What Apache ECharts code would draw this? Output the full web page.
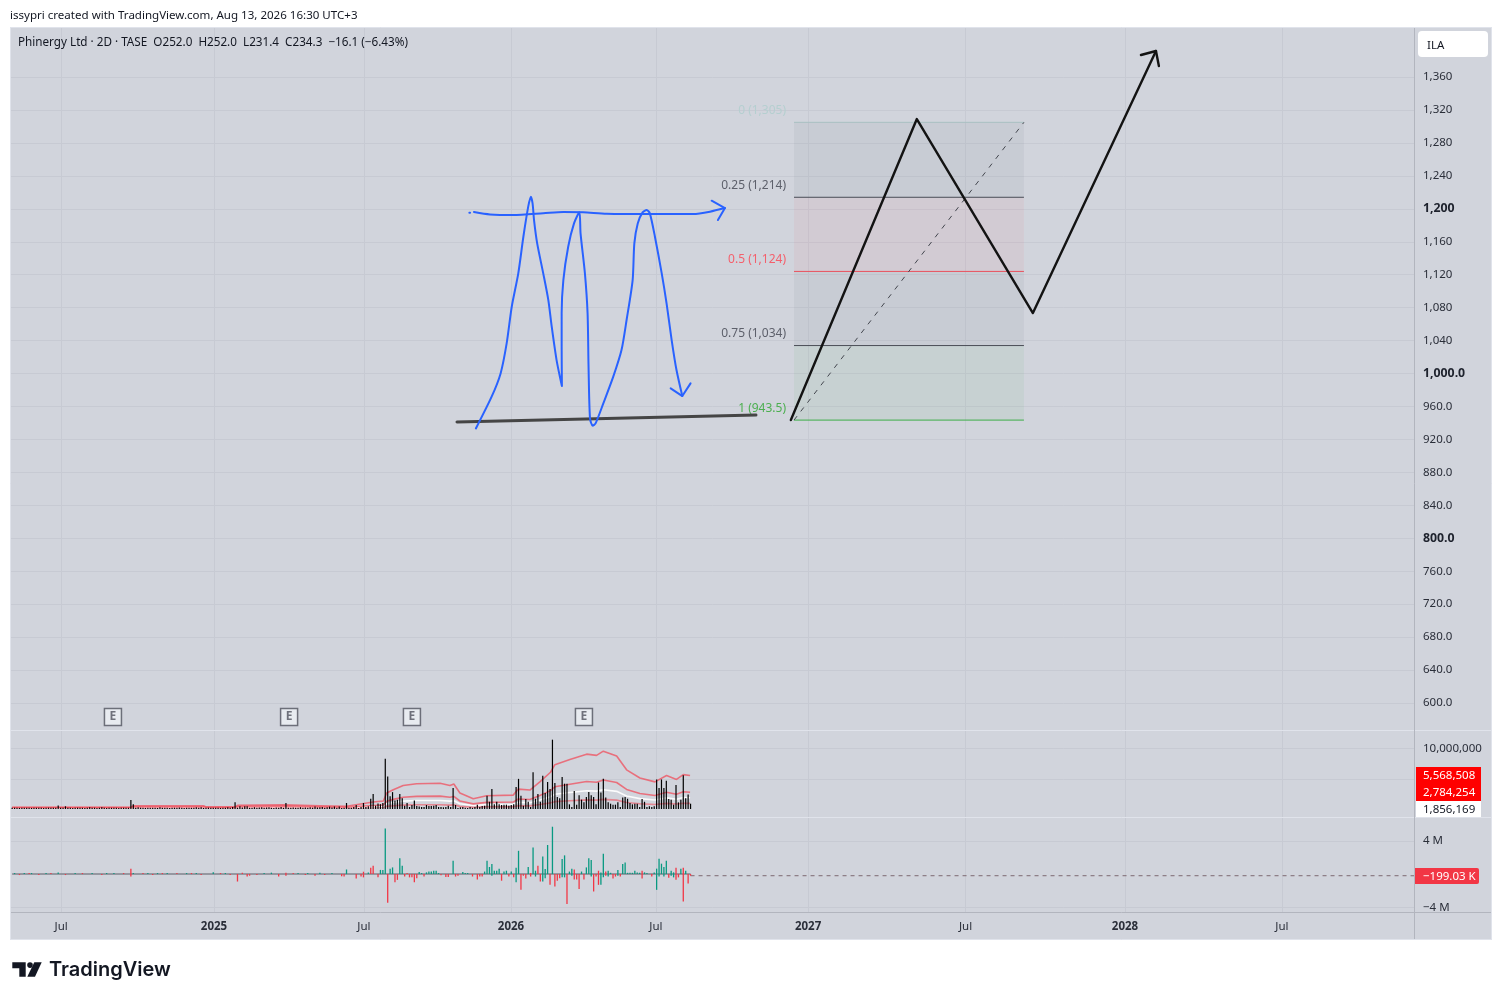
<!DOCTYPE html>
<html><head><meta charset="utf-8">
<style>html,body{margin:0;padding:0;background:#fff}#c{width:1502px;height:1000px}</style>
<script src="https://cdn.jsdelivr.net/npm/echarts@6/dist/echarts.min.js"></script>
</head><body><div id="c"></div>
<script>
const creditText = 'issypri created with TradingView.com, Aug 13, 2026 16:30 UTC+3';
const legendText = 'Phinergy Ltd · 2D · TASE  O252.0  H252.0  L231.4  C234.3  −16.1 (−6.43%)';
const brandText = 'TradingView';
const currencyText = 'ILA';
const priceTicks = [1360,1320,1280,1240,1200,1160,1120,1080,1040,1000,960,920,880,840,800,760,720,680,640,600];
const strongPrices = [1200,1000,800];
const timeTickPositions = [18.2,81.3,143.2,203.9,263.7,326.5,391.5,457.3,522.1];
const timeTickLabels = ['Jul','2025','Jul','2026','Jul','2027','Jul','2028','Jul'];
const fibLevels = [0,0.25,0.5,0.75,1];
const fibPrices = [1305,1214,1124,1034,943.5];
const fibLabels = ['1,305','1,214','1,124','1,034','943.5'];
const fibStart = 320.7, fibEnd = 415.6;
const earningsBars = [39.6,112.3,163.0,234.0];
const earningsPrice = 583;
const bluePath = [[189.4,933.4],[195.9,971.9],[199.6,1000.2],[202.1,1036.6],[204.2,1081.1],[206.9,1121.6],[209.0,1166.1],[211.0,1202.6],[212.1,1214.7],[212.8,1206.6],[213.4,1186.4],[214.7,1158],[217.2,1121.6],[219.3,1089.2],[220.7,1056.9],[222.7,1016.4],[224.9,984.8],[224.8,1032.6],[224.8,1073.1],[225.5,1113.5],[227.5,1154],[229.9,1182.3],[232.1,1195.7],[232.6,1170.2],[234.4,1121.6],[235.5,1073.1],[235.9,1008.3],[236.5,945.6],[237.6,936.7],[238.8,939.5],[242,963.8],[246.1,996.2],[249.5,1028.5],[251.6,1065],[254.1,1113.5],[254.8,1158],[256.2,1182.3],[258.2,1195.7],[259.9,1198.5],[261.2,1194.5],[263.3,1166.1],[266.1,1121.6],[268.1,1085.2],[270.2,1040.7],[272.2,1004.3],[274.6,972.7]];
const blueHead = [[269.8,982],[274.6,972.7],[278,988.1]];
const blueTop = [[188.6,1196.1],[195.2,1193.2],[204.8,1192.4],[217.2,1194.5],[225.5,1196.1],[233.7,1195.7],[243.4,1194.1],[261.2,1193.7],[279.1,1193.7],[286,1196.5],[292.2,1200.9]];
const blueTopHead = [[286.7,1209.8],[292.2,1200.9],[289.3,1186.4]];
const blueDot = [[186.7,1195.3],[187,1195.3]];
const supportLine = [[181.6,941.1],[305,949.6]];
const zigzag = [[319.4,943.6],[371.4,1309],[419.3,1073.5],[470.1,1391.6]];
const zigzagHead = [[463.9,1386.7],[470.1,1391.6],[471.3,1373.3]];

const firstBar = -2;
const volumeM = [
.2,.22,.2,.18,.2,.22,.2,.2,.18,.22,.2,.22,.2,.18,.2,.22,.2,.22,.2,.6,.22,.2,.45,.2,.22,.18,.2,.22,.2,.2,.18,.22,.28,.2,.22,.18,.2,.3,.2,.18,.22,.2,.2,.22,.18,.2,.22,.2,.2,1.5,.8,.2,.3,.22,.2,.18,.22,.2,.2,.22,.18,.3,.2,.22,.2,.18,.2,.22,.2,.25,.2,.18,.22,.2,.2,.22,.28,.2,.3,.18,.2,.22,.2,.2,.22,.2,.18,.2,.22,.3,.2,.32,1.1,.22,.45,.25,.45,.45,.2,.22,.3,.2,.25,.3,.22,.25,.3,.2,.18,.25,.22,.32,.2,1,.22,.2,.25,.22,.2,.3,.22,.25,.2,.3,.22,.4,.25,.3,.35,.2,.3,.4,.25,.4,.22,.4,
.15,.2,1,.2,.2,.35,.65,.15,.35,1,.35,.45,1.7,2.5,.55,.9,.8,1,8.35,
5.4,2.1,2.8,1.4,1.55,2.5,1.8,.55,1,.33,.66,1.4,.5,.4,.33,.33,.66,.5,.5,.55,.66,.33,.33,.28,.33,.55,.33,3.5,
.66,.15,.28,.33,.2,.15,.33,.2,.33,.72,.33,.5,.55,2.2,1.2,3.3,.77,1.2,.8,.66,.72,.72,.55,.66,.77,3.65,5,2.2,.55,1.66,1.2,.33,6.1,1.7,2.5,1.2,5.5,2.65,4.5,3.3,11.5,4.3,2,1.8,5.3,4.2,4.2,.77,.33,3,.72,2.3,1.55,1.1,2,2.8,2.3,2,.77,4.4,2.75,5,1.9,1.1,.88,.72,.72,1.1,.33,1.9,2,1.7,1,.77,.88,.88,.33,1.66,1.2,.33,.44,.33,.44,4.9,3.5,4.9,3.5,4.7,1.66,1.55,.72,4,1.1,1.55,5.6,1.8,2.4,.88];
const volUpper = [[-2,.28],[47,.3],[48,.55],[77,.55],[78,.35],[90,.36],[91,.6],[110,.68],[125,.55],[136,.45],[147,1.16],[151.2,1.33],[152.6,2.65],[155.3,3.2],[159.4,3.9],[164.9,4.2],[174.6,4.26],[178.7,3.9],[180.3,4.15],[182.8,2.65],[188.3,1.7],[193.8,2.2],[204.8,2.3],[206.9,3.3],[211.7,3.15],[215.8,4.5],[220.2,6.1],[222,7.35],[228.2,8.2],[235.1,9.1],[239.2,8.9],[242,9.6],[247.5,8.8],[251.6,6.5],[257.1,5.15],[263.3,4.5],[268.1,5.55],[272.2,4.9],[275,5.7],[277.8,5.568508]];
const volMid = [[-2,.25],[47,.26],[48,.36],[77,.36],[78,.26],[90,.27],[91,.4],[110,.44],[125,.36],[136,.3],[147,.58],[151.2,.67],[152.6,1.3],[155.3,1.6],[159.4,1.95],[164.9,2.1],[174.6,2.13],[178.7,1.95],[180.3,2.08],[182.8,1.33],[188.3,.85],[193.8,1.1],[204.8,1.15],[206.9,1.65],[211.7,1.58],[215.8,2.25],[220.2,3.05],[222,3.68],[228.2,4.1],[235.1,4.55],[239.2,4.45],[242,4.8],[247.5,4.4],[251.6,3.25],[257.1,2.58],[263.3,2.25],[268.1,2.78],[272.2,2.45],[275,2.85],[277.8,2.784254]];
const volBase = [[-2,.22],[47,.22],[48,.28],[77,.28],[78,.22],[90,.22],[91,.3],[110,.32],[125,.28],[136,.25],[147,.39],[151.2,.44],[152.6,.88],[155.3,1.07],[159.4,1.3],[164.9,1.4],[174.6,1.42],[178.7,1.3],[180.3,1.38],[182.8,.88],[188.3,.57],[193.8,.73],[204.8,.77],[206.9,1.1],[211.7,1.05],[215.8,1.5],[220.2,2.03],[222,2.45],[228.2,2.73],[235.1,3.03],[239.2,2.97],[242,3.2],[247.5,2.93],[251.6,2.17],[257.1,1.72],[263.3,1.5],[268.1,1.85],[272.2,1.63],[275,1.9],[277.8,1.856169]];
const volLow = [[-2,.2],[47,.2],[48,.24],[77,.24],[78,.2],[90,.2],[91,.25],[110,.26],[125,.24],[136,.22],[147,.25],[151.2,.28],[152.6,.44],[155.3,.53],[159.4,.65],[164.9,.7],[174.6,.71],[178.7,.65],[180.3,.69],[182.8,.44],[188.3,.28],[193.8,.37],[204.8,.38],[206.9,.55],[211.7,.52],[215.8,.75],[220.2,1.02],[222,1.22],[228.2,1.37],[235.1,1.52],[239.2,1.48],[242,1.6],[247.5,1.47],[251.6,1.08],[257.1,.86],[263.3,.75],[268.1,.93],[272.2,.82],[275,.95],[277.8,.93]];
const deltaGreenM = [[-1,.12],[3,.12],[6,.12],[12,.12],[17,.2],[24,.12],[31,.12],[37,.12],[40,.12],[48,.12],[54,.12],[58,.12],[62,.12],[70,.12],[74,.12],[81,.22],[86,.12],[102,.12],[105,.17],[116,.12],[120,.12],[125,.17],[130,.12],[136,.55],[145,.2],[150,.5],[151,.5],[152,5.5],[154,.65],[155,.8],[158,1.9],[159,1],[166,.25],[167,.12],[169,.2],[170,.3],[171,.3],[172,.4],[173,.4],[174,.12],[180,1.6],[184,.25],[185,.12],[186,.12],[193,.3],[194,1.6],[195,.85],[196,1.2],[196,-.2],[197,.4],[198,.4],[199,.65],[201,.3],[202,.4],[204,.3],[206,.75],[206,-1],[207,2.8],[211,.85],[213,3.2],[214,.4],[214,-.3],[217,2.1],[217,-.9],[218,.6],[218,-.5],[219,3.5],[221,5.7],[225,1.8],[225,-.4],[226,2.25],[226,-.4],[228,.3],[229,.65],[229,-.2],[233,.3],[235,.8],[236,1.9],[237,1.7],[237,-.3],[241,.2],[241,-1.3],[242,2.45],[242,-.4],[244,.4],[244,-.3],[245,.15],[248,.5],[248,-.2],[250,1.2],[251,1.4],[252,.15],[253,.15],[254,.15],[255,.4],[256,.2],[257,.15],[259,.2],[260,.12],[263,.2],[264,.65],[264,-1.9],[265,1.85],[265,-.3],[266,1.25],[267,.85],[267,-.3],[268,1.6],[270,.4],[270,-.2],[271,.2],[271,-.4],[274,.65],[276,.4]];
const deltaRedM = [[1,-.12],[5,.12],[9,-.12],[14,.12],[20,-.12],[27,.12],[35,-.12],[44,.12],[47,.65],[47,-.3],[52,.12],[56,-.12],[60,.12],[66,.12],[72,.12],[76,-.12],[84,.12],[88,-.12],[91,-.9],[93,.15],[95,-.3],[96,-.2],[99,-.12],[108,-.3],[111,.15],[111,-.2],[114,.12],[119,-.12],[123,-.2],[127,-.12],[134,-.25],[135,-.3],[140,-.55],[142,-.3],[143,.28],[143,-.4],[146,.75],[147,1],[149,-.4],[153,-3.45],[156,-1],[157,-.7],[160,-.3],[161,.12],[162,-.4],[163,-.4],[164,-1],[165,-.5],[168,-.3],[175,-.15],[177,-.35],[178,-.35],[181,-.3],[182,-.2],[188,-.3],[190,-.65],[191,-.3],[192,-.3],[200,-.8],[203,-.3],[205,-.4],[208,-1.9],[209,-.2],[210,-.55],[212,.12],[212,-.3],[215,1],[216,-.9],[220,-1.3],[222,-1.5],[223,-.8],[224,-.5],[227,-3.6],[230,.55],[230,-.65],[231,-.65],[232,-1.8],[234,-.65],[238,-2.1],[239,-.3],[240,.4],[240,-1.3],[243,.3],[243,-.2],[246,-.55],[247,-.3],[249,-.3],[258,.4],[258,-.55],[262,-.3],[269,-.45],[272,.75],[272,-.7],[273,-.4],[275,.75],[275,-3.3],[277,-1.15],[278,-.199]];
const lastDelta = -199030;
const deltaTagText = '−199.03 K';
const volumeTags = ['5,568,508','2,784,254','1,856,169'];

const FONT = '"Noto Sans", sans-serif';
const M = 1e6;
const GRID = '#c7cad3';
const TXT = '#2a2e39';
const fmtPrice = v => v > 1000 ? v.toLocaleString('en-US') : (v === 1000 ? '1,000.0' : v.toFixed(1));
const volumeBars = volumeM.map((v, k) => [firstBar + k, v * M]);
const scaleM = arr => arr.map(p => [p[0], p[1] * M]);

const xBase = (gridIndex, show) => ({
  type: 'value', gridIndex, min: -2.48, max: 576.6, position: 'bottom',
  axisLine: { show: false, onZero: false }, axisTick: { show: false, customValues: timeTickPositions },
  splitLine: { show: true, lineStyle: { color: GRID, width: 1 } },
  axisLabel: show ? {
    show: true, customValues: timeTickPositions, margin: 9, fontFamily: FONT, fontSize: 11.5, color: TXT,
    hideOverlap: false,
    formatter: v => { const t = timeTickLabels[timeTickPositions.indexOf(v)]; return /\d/.test(t) ? '{b|' + t + '}' : t; },
    rich: { b: { fontWeight: 'bold', fontFamily: FONT, fontSize: 11.5, color: TXT } }
  } : { show: false }
});

const drawn = (data, color, width, extra) => Object.assign({
  type: 'line', xAxisIndex: 0, yAxisIndex: 0, data, showSymbol: false, symbol: 'none', silent: true, z: 6, clip: false,
  lineStyle: { color, width, cap: 'round', join: 'round' }
}, extra || {});

const fibColors = ['#b5cfd0', '#5d606b', '#f4606c', '#5d606b', '#4caf50'];
const fibLineColors = ['#a9c0c2', '#4a4d57', '#e8505d', '#4a4d57', '#3fae49'];
const fibSeries = fibPrices.map((p, k) => ({
  type: 'line', xAxisIndex: 0, yAxisIndex: 0, silent: true, symbol: 'none', z: 4,
  data: [[fibStart, p], [fibEnd, p]],
  lineStyle: { color: fibLineColors[k], width: 1 },
  endLabel: { show: false },
  markPoint: { symbol: 'circle', symbolSize: 0, silent: true,
    data: [{ coord: [fibStart, p], label: { show: true, position: 'left', offset: [-3, -11.5], formatter: fibLevels[k] + ' (' + fibLabels[k] + ')', color: fibColors[k], fontFamily: FONT, fontSize: 12 } }] }
}));
const bands = ['rgba(100,104,118,0.075)', 'rgba(242,54,69,0.055)', 'rgba(100,104,118,0.075)', 'rgba(76,175,80,0.07)'];

const rect = (x, y, w, h, fill, extra) => Object.assign({ type: 'rect', silent: true, shape: { x, y, width: w, height: h }, style: { fill } }, extra || {});
const hline = (x1, x2, y, stroke) => ({ type: 'line', silent: true, z: 40, shape: { x1, y1: y, x2, y2: y }, style: { stroke, lineWidth: 1 } });
const vline = (x, y1, y2, stroke) => ({ type: 'line', silent: true, z: 40, shape: { x1: x, y1, x2: x, y2 }, style: { stroke, lineWidth: 1 } });
const txt = (x, y, text, fill, size, weight, z) => ({ type: 'text', silent: true, z: z || 50, x, y, style: { text, fill, font: (weight || 'normal') + ' ' + size + 'px ' + FONT, textVerticalAlign: 'middle', verticalAlign: 'middle', textAlign: 'left', align: 'left' } });

const option = {
  animation: false,
  backgroundColor: '#ffffff',
  grid: [
    { left: 11, width: 1403, top: 28, height: 702, show: false },
    { left: 11, width: 1403, top: 731, height: 86, show: false },
    { left: 11, width: 1403, top: 818, height: 94, show: false }
  ],
  xAxis: [xBase(0, false), xBase(1, false), xBase(2, true)],
  yAxis: [
    { type: 'value', gridIndex: 0, position: 'right', min: 567.3, max: 1419.5,
      axisLine: { show: false }, axisTick: { show: false, customValues: priceTicks },
      splitLine: { show: true, lineStyle: { color: GRID } },
      axisLabel: { customValues: priceTicks, align: 'left', margin: 9, fontFamily: FONT, fontSize: 11.5, color: TXT,
        formatter: v => strongPrices.includes(v) ? '{b|' + fmtPrice(v) + '}' : fmtPrice(v),
        rich: { b: { fontWeight: 'bold', fontFamily: FONT, fontSize: 12.3, color: '#1e222d' } } } },
    { type: 'value', gridIndex: 1, position: 'right', min: -1.327 * M, max: 12.94 * M,
      axisLine: { show: false }, axisTick: { show: false, customValues: [5 * M, 10 * M] },
      splitLine: { show: true, lineStyle: { color: GRID } },
      axisLabel: { customValues: [10 * M], align: 'left', margin: 9, fontFamily: FONT, fontSize: 11.5, color: TXT, padding: [0, 0, 4, 0], formatter: v => v.toLocaleString('en-US') } },
    { type: 'value', gridIndex: 2, position: 'right', min: -4.57 * M, max: 6.75 * M,
      axisLine: { show: false }, axisTick: { show: false, customValues: [4 * M, -4 * M] },
      splitLine: { show: true, lineStyle: { color: GRID } },
      axisLabel: { customValues: [4 * M, -4 * M], align: 'left', margin: 9, fontFamily: FONT, fontSize: 11.5, color: TXT, formatter: v => (v < 0 ? '−' : '') + Math.abs(v / M) + ' M' } }
  ],
  series: [
    { type: 'line', xAxisIndex: 0, yAxisIndex: 0, silent: true, symbol: 'none', z: 2, data: [], lineStyle: { width: 0 },
      markArea: { silent: true, data: bands.map((c, k) => [
        { coord: [fibStart, fibPrices[k]], itemStyle: { color: c } }, { coord: [fibEnd, fibPrices[k + 1]] }]) } },
    ...fibSeries,
    drawn([[fibStart, fibPrices[4]], [fibEnd, fibPrices[0]]], '#44474f', 1, { z: 5, lineStyle: { color: '#44474f', width: 1, type: [5, 6] } }),
    drawn(supportLine, '#454545', 3, { z: 5 }),
    drawn(bluePath, '#2962ff', 2, { smooth: 0.25 }),
    drawn(blueHead, '#2962ff', 2),
    drawn(blueTop, '#2962ff', 2, { smooth: 0.25 }),
    drawn(blueTopHead, '#2962ff', 2),
    drawn(blueDot, '#2962ff', 2),
    drawn(zigzag, '#131313', 2.4, { z: 7 }),
    drawn(zigzagHead, '#131313', 2.4, { z: 7 }),
    { type: 'scatter', xAxisIndex: 0, yAxisIndex: 0, silent: true, z: 8,
      data: earningsBars.map(b => [b, earningsPrice]),
      symbol: 'rect', symbolSize: 17,
      itemStyle: { color: '#eef0f5', borderColor: '#50535e', borderWidth: 1.5 },
      label: { show: true, position: 'inside', formatter: 'E', color: '#50535e', fontFamily: FONT, fontSize: 12, fontWeight: 'bold' } },
    { type: 'line', xAxisIndex: 1, yAxisIndex: 1, data: scaleM(volLow), symbol: 'none', silent: true, z: 3, lineStyle: { color: 'rgba(242,70,84,0.55)', width: 1.6 } },
    { type: 'line', xAxisIndex: 1, yAxisIndex: 1, data: scaleM(volBase), symbol: 'none', silent: true, z: 3, lineStyle: { color: 'rgba(255,255,255,0.9)', width: 1.6 } },
    { type: 'line', xAxisIndex: 1, yAxisIndex: 1, data: scaleM(volMid), symbol: 'none', silent: true, z: 3, lineStyle: { color: 'rgba(242,70,84,0.7)', width: 1.6 } },
    { type: 'line', xAxisIndex: 1, yAxisIndex: 1, data: scaleM(volUpper), symbol: 'none', silent: true, z: 3, lineStyle: { color: 'rgba(242,70,84,0.7)', width: 1.6 } },
    { type: 'bar', xAxisIndex: 1, yAxisIndex: 1, data: volumeBars, barWidth: 1.2, itemStyle: { color: '#000' }, silent: true, z: 4 },
    { type: 'line', xAxisIndex: 2, yAxisIndex: 2, data: [[-2, 0], [278, 0]], symbol: 'none', silent: true, z: 2, lineStyle: { color: '#80838d', width: 1.5 } },
    { type: 'bar', xAxisIndex: 2, yAxisIndex: 2, data: scaleM(deltaGreenM), barWidth: 1.3, barGap: '-100%', itemStyle: { color: '#089981' }, silent: true, z: 3 },
    { type: 'bar', xAxisIndex: 2, yAxisIndex: 2, data: scaleM(deltaRedM), barWidth: 1.3, barGap: '-100%', itemStyle: { color: '#f23645' }, silent: true, z: 3 },
    { type: 'line', xAxisIndex: 2, yAxisIndex: 2, data: [[278, lastDelta], [576.6, lastDelta]], symbol: 'none', silent: true, z: 2, lineStyle: { color: '#7d6a72', width: 1, type: [4, 4] } }
  ],
  graphic: { elements: [
    rect(10, 27, 1482, 913, '#d1d4dc', { z: -100 }),
    hline(10, 1492, 730.5, '#e0e3eb'),
    hline(10, 1492, 817.5, '#e0e3eb'),
    hline(10, 1492, 912.5, '#b2b5be'),
    vline(1414.5, 27, 940, '#b2b5be'),
    vline(10.5, 27, 940, '#e0e3eb'), vline(1491.5, 27, 940, '#e0e3eb'),
    hline(10, 1492, 27.5, '#e0e3eb'), hline(10, 1492, 939.5, '#e0e3eb'),
    rect(1415, 913, 76, 6, '#d1d4dc', { z: 45 }),
    txt(10, 16, creditText, '#131722', 11.56),
    txt(18, 43, legendText, '#131722', 11.7),
    { type: 'rect', silent: true, z: 40, shape: { x: 1418, y: 31, width: 70, height: 26, r: 4 }, style: { fill: '#ffffff' } },
    txt(1427, 46, currencyText, '#131722', 11.5),
    rect(1416, 767, 65, 34, '#ff0000', { z: 40 }),
    rect(1416, 801, 65, 16, '#ffffff', { z: 40 }),
    txt(1423, 776, volumeTags[0], '#ffffff', 11.5),
    txt(1423, 793, volumeTags[1], '#ffffff', 11.5),
    txt(1423, 810, volumeTags[2], '#131722', 11.5),
    { type: 'rect', silent: true, z: 40, shape: { x: 1415, y: 868, width: 64, height: 16, r: [0, 2, 2, 0] }, style: { fill: '#f23645' } },
    txt(1423, 877, deltaTagText, '#ffffff', 11.5),
    { type: 'polygon', silent: true, z: 40, shape: { points: [[12.3, 962.3], [25.7, 962.3], [25.7, 976.7], [19.3, 976.7], [19.3, 968.3], [12.3, 968.3]] }, style: { fill: '#131722' } },
    { type: 'circle', silent: true, z: 40, shape: { cx: 30, cy: 965.1, r: 2.8 }, style: { fill: '#131722' } },
    { type: 'polygon', silent: true, z: 40, shape: { points: [[34.3, 962.3], [41.7, 962.3], [35, 976.7], [27.3, 976.7]] }, style: { fill: '#131722' } },
    { type: 'text', silent: true, z: 40, x: 49, y: 970, style: { text: brandText, fill: '#131722', font: '600 20px Inter, sans-serif', verticalAlign: 'middle', align: 'left' } }
  ] }
};
echarts.init(document.getElementById('c'), null, { renderer: 'canvas' }).setOption(option);
</script></body></html>
